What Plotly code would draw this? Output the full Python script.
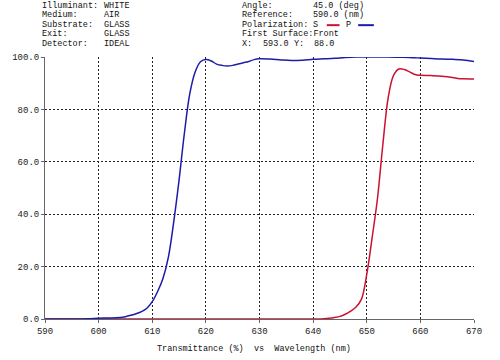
import plotly.graph_objects as go

# ---- data ----
wl_p = [590, 595, 598, 600, 602, 604, 605, 606, 607, 608, 609, 610, 611, 612, 613, 614,
        615, 616, 617, 618, 619, 620, 621, 622, 623, 624, 625, 626, 627, 628, 629, 630,
        632, 634, 636, 638, 640, 642, 644, 646, 648, 650, 652, 654, 656, 658, 660, 662,
        664, 666, 668, 670]
t_p = [0.0, 0.0, 0.1, 0.3, 0.4, 0.6, 0.9, 1.4, 2.0, 2.8, 4.1, 6.6, 10.5, 15.5, 23.5, 37.0,
       53.0, 71.0, 86.0, 94.3, 98.2, 99.0, 98.5, 97.3, 96.8, 96.6, 96.8, 97.3, 97.8, 98.3, 99.0, 99.3,
       99.2, 98.9, 98.7, 98.8, 99.1, 99.3, 99.5, 99.8, 100.0, 100.0, 100.0, 100.0, 99.9, 99.8, 99.6, 99.4,
       99.2, 99.1, 98.9, 98.3]

wl_s = [590, 600, 610, 620, 630, 640, 642, 643, 644, 645, 646, 647, 648, 649, 650, 651,
        652, 653, 654, 655, 656, 657, 658, 659, 660, 662, 664, 666, 667, 668, 670]
t_s = [0.0, 0.0, 0.0, 0.0, 0.0, 0.0, 0.1, 0.3, 0.6, 1.0, 1.8, 3.0, 4.6, 7.5, 17.0, 31.0,
       46.0, 66.5, 84.5, 93.0, 95.4, 95.2, 94.3, 93.3, 93.0, 92.9, 92.7, 92.2, 91.8, 91.7, 91.6]

x_ticks = [590, 600, 610, 620, 630, 640, 650, 660, 670]
y_ticks = [0, 20, 40, 60, 80, 100]

info_left_labels = ["Illuminant:", "Medium:", "Substrate:", "Exit:", "Detector:"]
info_left_values = ["WHITE", "AIR", "GLASS", "GLASS", "IDEAL"]

FONT = "Liberation Mono, Courier New, monospace"
L, R, T, B = 37, 474, 57.3, 319.0

def px(x):
    return (x - L) / (R - L)

def py(y):
    return (B - y) / (B - T)

fig = go.Figure()
fig.add_trace(go.Scatter(x=wl_s, y=t_s, mode="lines", line=dict(color="#cc1133", width=1.5),
                         line_shape="spline", showlegend=False))
fig.add_trace(go.Scatter(x=wl_p, y=t_p, mode="lines", line=dict(color="#1c1ca8", width=1.5),
                         line_shape="spline", showlegend=False))

axis_common = dict(showgrid=True, gridcolor="#222", gridwidth=1, griddash="2px,2px",
                   zeroline=False, showline=True, linecolor="#666", linewidth=1,
                   ticks="outside", ticklen=3, tickcolor="#666",
                   tickfont=dict(family=FONT, size=9, color="#222"))

fig.update_xaxes(range=[590, 670], tickvals=x_ticks, ticktext=[str(v) for v in x_ticks], **axis_common)
fig.update_yaxes(range=[0, 100], tickvals=y_ticks, ticktext=["%.1f" % v for v in y_ticks], **axis_common)

ann = []
rows = [6, 15.5, 25, 34.5, 44]
DX = -4
for i, (lab, val) in enumerate(zip(info_left_labels, info_left_values)):
    ann.append(dict(x=px(37 + DX), y=py(rows[i]), text=lab))
    ann.append(dict(x=px(100 + DX), y=py(rows[i]), text=val))
right = [("Angle:", 241, rows[0]), ("45.0 (deg)", 313, rows[0]),
         ("Reference:", 241, rows[1]), ("590.0 (nm)", 313, rows[1]),
         ("Polarization:", 241, rows[2]), ("S", 313, rows[2]), ("P", 347, rows[2]),
         ("First Surface:Front", 241, rows[3]),
         ("X:", 241, rows[4]), ("593.0", 262, rows[4]), ("Y:", 294, rows[4]), ("88.0", 314, rows[4])]
for t, x, y in right:
    ann.append(dict(x=px(x + DX), y=py(y), text=t))
ann.append(dict(x=px(250), y=py(349), text="Transmittance (%)  vs  Wavelength (nm)", xanchor="center"))
annotations = []
for a in ann:
    d = dict(xref="paper", yref="paper", showarrow=False, xanchor="left", yanchor="middle",
             font=dict(family=FONT, size=8.5, color="#111"), borderpad=0)
    d.update(a)
    annotations.append(d)

shapes = [
    dict(type="line", xref="paper", yref="paper", x0=px(324), x1=px(337), y0=py(25.5), y1=py(25.5),
         line=dict(color="#cc1133", width=2)),
    dict(type="line", xref="paper", yref="paper", x0=px(356), x1=px(372), y0=py(25.5), y1=py(25.5),
         line=dict(color="#1c1ca8", width=2)),
]

fig.update_layout(width=500, height=360, margin=dict(l=L, r=500 - R, t=T, b=360 - B),
                  paper_bgcolor="white", plot_bgcolor="white",
                  annotations=annotations, shapes=shapes)

fig.write_html("out.html")
